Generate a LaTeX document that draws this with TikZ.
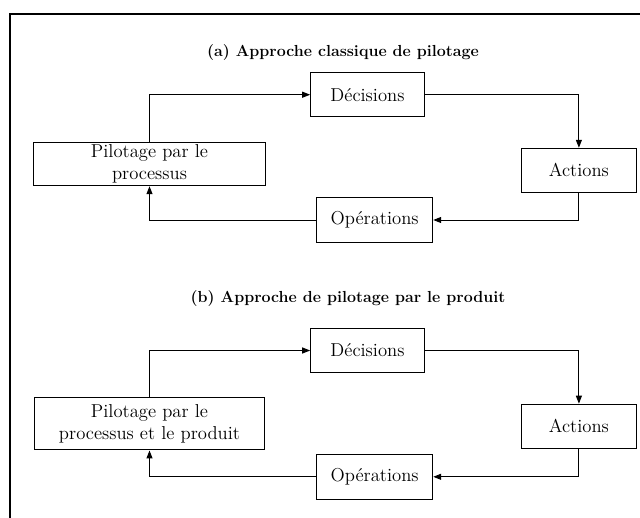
\documentclass[tikz,border=0pt]{standalone}
\usepackage{amsmath}
\usepackage{tikz}
\usetikzlibrary{arrows.meta}

\begin{document}
\begin{tikzpicture}[x=0.75pt,y=0.75pt,yscale=-1,xscale=1,
  boite/.style={draw,line width=0.75pt,inner sep=0pt,align=center,font=\fontsize{14}{16.5}\selectfont},
  titre/.style={font=\fontsize{12}{14}\selectfont\bfseries},
  fleche/.style={line width=0.75pt,-{Triangle[length=6pt,width=4.5pt]}}]
\useasboundingbox (0,0) rectangle (640,518);

%Frame
\draw [line width=1.5pt] (10,518) -- (10,14) -- (640,14) ;

%Titles
\node [titre] (titreA) at (343,53) {(a) Approche classique de pilotage};
\node [titre] (titreB) at (348,299) {(b) Approche de pilotage par le produit};

%Shapes (a)
\node [boite,minimum width=85.2pt,minimum height=33pt] (dec1) at (367.5,94.7) {Décisions};
\node [boite,minimum width=174.3pt,minimum height=32.6pt] (pil1) at (149.5,164) {Pilotage par le\\processus};
\node [boite,minimum width=85.7pt,minimum height=33pt] (act1) at (578.9,170.3) {Actions};
\node [boite,minimum width=87pt,minimum height=34pt] (ope1) at (374.7,220) {Opérations};

%Shapes (b)
\node [boite,minimum width=85.2pt,minimum height=33pt] (dec2) at (367.5,350.5) {Décisions};
\node [boite,minimum width=172.9pt,minimum height=39.2pt] (pil2) at (149.5,423.8) {Pilotage par le\\processus et le produit};
\node [boite,minimum width=85.7pt,minimum height=33pt] (act2) at (578.9,426.2) {Actions};
\node [boite,minimum width=87pt,minimum height=34pt] (ope2) at (374.7,476.8) {Opérations};

%Connectors (a)
\draw [fleche] (pil1.north) |- (dec1.west) ;
\draw [fleche] (dec1.east) -| (act1.north) ;
\draw [fleche] (act1.south) |- (ope1.east) ;
\draw [fleche] (ope1.west) -| (pil1.south) ;

%Connectors (b)
\draw [fleche] (pil2.north) |- (dec2.west) ;
\draw [fleche] (dec2.east) -| (act2.north) ;
\draw [fleche] (act2.south) |- (ope2.east) ;
\draw [fleche] (ope2.west) -| (pil2.south) ;

\end{tikzpicture}
\end{document}
